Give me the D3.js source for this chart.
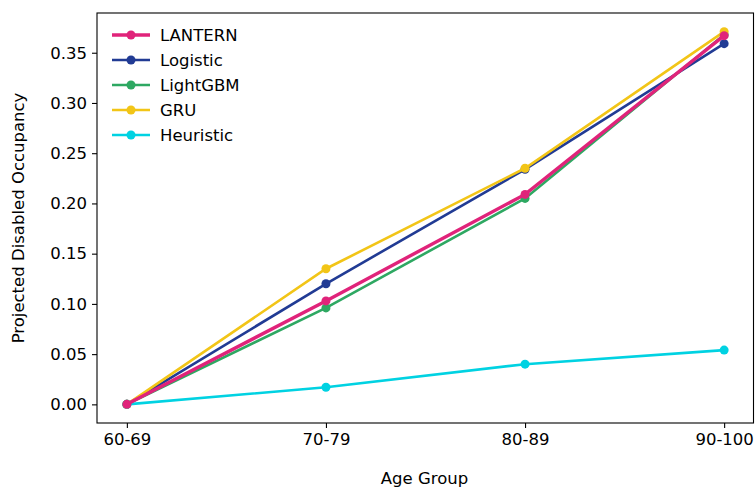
<!DOCTYPE html>
<html>
<head>
<meta charset="utf-8">
<style>
  body { margin: 0; background: white; }
  svg text { font-family: "DejaVu Sans", sans-serif; fill: #000; }
</style>
</head>
<body>
<svg id="chart" width="755" height="487"></svg>
<script src="https://cdn.jsdelivr.net/npm/d3@7"></script>
<script>
  // data
  const ageGroups = ["60-69", "70-79", "80-89", "90-100"]
  const lantern   = [0.000, 0.103, 0.209, 0.367]
  const logistic  = [0.000, 0.120, 0.234, 0.359]
  const lightgbm  = [0.000, 0.096, 0.205, 0.368]
  const gru       = [0.000, 0.135, 0.235, 0.371]
  const heuristic = [0.000, 0.017, 0.040, 0.054]
  const yTicks = [0, 0.05, 0.10, 0.15, 0.20, 0.25, 0.30, 0.35]

  const series = [
    { name: "LANTERN",   values: lantern,   color: "#e0237a", width: 3.4, z: 5 },
    { name: "Logistic",  values: logistic,  color: "#213b94", width: 2.6, z: 1 },
    { name: "LightGBM",  values: lightgbm,  color: "#2ea862", width: 2.6, z: 2 },
    { name: "GRU",       values: gru,       color: "#f2c517", width: 2.6, z: 3 },
    { name: "Heuristic", values: heuristic, color: "#00d2e2", width: 2.6, z: 4 }
  ]

  const fs = 16.5
  const margin = { left: 97, top: 13, right: 1, bottom: 64 }
  const svg = d3.select("#chart")
  const W = 755, H = 487
  const plotW = W - margin.left - margin.right
  const plotH = H - margin.top - margin.bottom

  const x = d3.scaleLinear()
    .domain([-0.15, ageGroups.length - 1 + 0.15])
    .range([margin.left, margin.left + plotW])

  const yMax = d3.max(series, s => d3.max(s.values))
  const pad = yMax * 0.05
  const y = d3.scaleLinear()
    .domain([-pad, yMax + pad])
    .range([margin.top + plotH, margin.top])

  // axes
  const xAxis = d3.axisBottom(x)
    .tickValues(d3.range(ageGroups.length))
    .tickFormat(i => ageGroups[i])
    .tickSizeOuter(0)
    .tickSize(5)
    .tickPadding(4)
  const gx = svg.append("g")
    .attr("transform", `translate(0,${margin.top + plotH})`)
    .call(xAxis)
  gx.select(".domain").remove()
  gx.selectAll("text").attr("font-size", fs).attr("dy", "0.8em")
  gx.selectAll("line").attr("stroke", "#000").attr("stroke-width", 1.1)

  const yAxis = d3.axisLeft(y)
    .tickValues(yTicks)
    .tickFormat(d3.format(".2f"))
    .tickSizeOuter(0)
    .tickSize(5)
    .tickPadding(5)
  const gy = svg.append("g")
    .attr("transform", `translate(${margin.left},0)`)
    .call(yAxis)
  gy.select(".domain").remove()
  gy.selectAll("text").attr("font-size", fs)
  gy.selectAll("line").attr("stroke", "#000").attr("stroke-width", 1.1)

  // lines
  const line = d3.line()
    .x((d, i) => x(i))
    .y(d => y(d))

  const drawOrder = series.slice().sort((a, b) => a.z - b.z)
  const lines = svg.append("g")
  drawOrder.forEach(s => {
    const g = lines.append("g")
    g.append("path")
      .datum(s.values)
      .attr("d", line)
      .attr("fill", "none")
      .attr("stroke", s.color)
      .attr("stroke-width", s.width)
    g.selectAll("circle")
      .data(s.values)
      .enter()
      .append("circle")
      .attr("cx", (d, i) => x(i))
      .attr("cy", d => y(d))
      .attr("r", 4.5)
      .attr("fill", s.color)
  })

  // frame
  svg.append("rect")
    .attr("x", margin.left)
    .attr("y", margin.top)
    .attr("width", plotW - 0.5)
    .attr("height", plotH)
    .attr("fill", "none")
    .attr("stroke", "#000")
    .attr("stroke-width", 1.1)

  // axis labels
  svg.append("text")
    .attr("x", margin.left + plotW / 2 - 1)
    .attr("y", 484)
    .attr("text-anchor", "middle")
    .attr("font-size", fs)
    .text("Age Group")

  svg.append("text")
    .attr("transform", `translate(24,${margin.top + plotH / 2}) rotate(-90)`)
    .attr("text-anchor", "middle")
    .attr("font-size", fs)
    .text("Projected Disabled Occupancy")

  // legend
  const legend = svg.append("g").attr("transform", "translate(112,35)")
  series.forEach((s, i) => {
    const row = legend.append("g").attr("transform", `translate(0,${i * 25})`)
    row.append("line")
      .attr("x1", 0).attr("x2", 38)
      .attr("stroke", s.color)
      .attr("stroke-width", s.width)
    row.append("circle")
      .attr("cx", 19).attr("r", 4.5)
      .attr("fill", s.color)
    row.append("text")
      .attr("x", 48)
      .attr("dy", "0.35em")
      .attr("font-size", fs)
      .text(s.name)
  })
</script>
</body>
</html>
